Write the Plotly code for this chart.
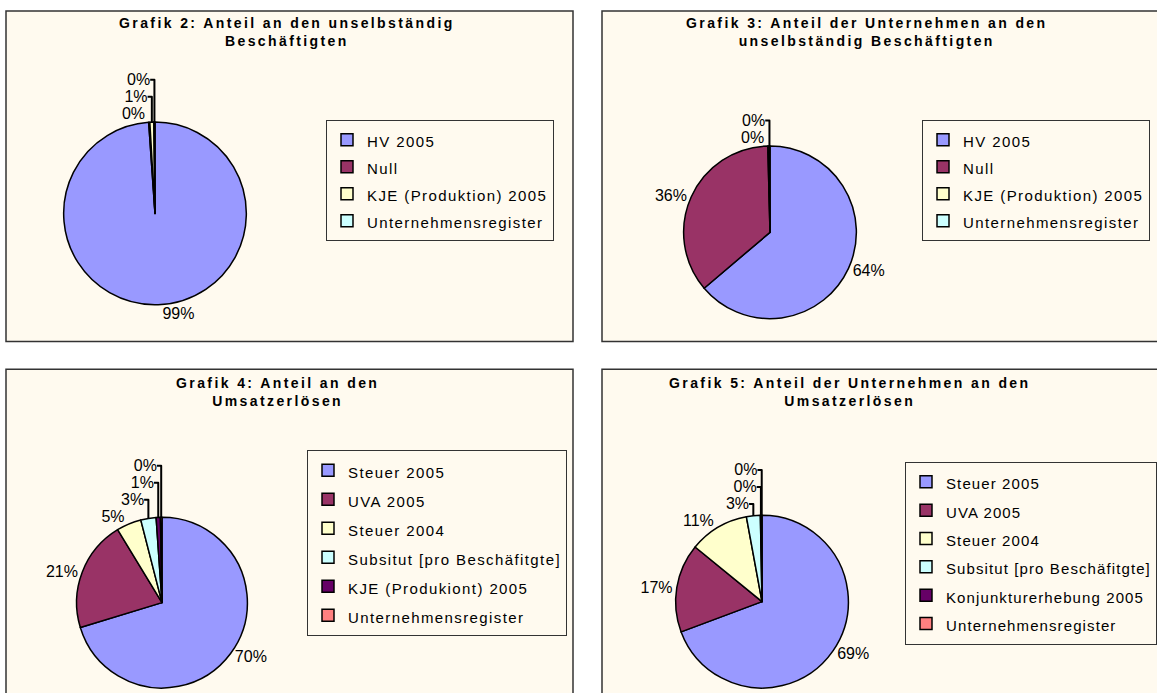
import plotly.graph_objects as go

W, H = 1157, 693

# ---------------- data ----------------
titles = [
    "Grafik 2: Anteil an den unselbständig<br>Beschäftigten",
    "Grafik 3: Anteil der Unternehmen an den<br>unselbständig Beschäftigten",
    "Grafik 4: Anteil an den<br>Umsatzerlösen",
    "Grafik 5: Anteil der Unternehmen an den<br>Umsatzerlösen",
]

labels_g2 = ["HV 2005", "Null", "KJE (Produktion) 2005", "Unternehmensregister"]
values_g2 = [98.9, 0.2, 0.7, 0.2]

labels_g3 = ["HV 2005", "Null", "KJE (Produktion) 2005", "Unternehmensregister"]
values_g3 = [63.8, 35.8, 0.2, 0.2]

labels_g4 = ["Steuer 2005", "UVA 2005", "Steuer 2004", "Subsitut [pro Beschäfitgte]",
             "KJE (Produkiont) 2005", "Unternehmensregister"]
values_g4 = [70.3, 21.0, 4.7, 2.9, 0.8, 0.3]

labels_g5 = ["Steuer 2005", "UVA 2005", "Steuer 2004", "Subsitut [pro Beschäfitgte]",
             "Konjunkturerhebung 2005", "Unternehmensregister"]
values_g5 = [69.3, 16.6, 11.2, 2.6, 0.2, 0.1]

colors4 = ["#9999FF", "#993366", "#FFFFCC", "#CCFFFF"]
colors6 = ["#9999FF", "#993366", "#FFFFCC", "#CCFFFF", "#660066", "#FF8080"]

# ---------------- layout helpers ----------------
FONT = "Liberation Sans, Arial, sans-serif"
CREAM = "#FFFAEF"


def px(x):
    return x / W


def py(y):
    return 1 - y / H


def styled(s, k, ls, size=15):
    # k makes the legend entry unique per chart (pie legends are shared by label)
    return f'<span style="font-size:{size}px;letter-spacing:{ls + k * 0.001:.3f}px">{s}</span>'


panels = [  # (x0, y0, x1, y1) in pixels from top-left
    (6, 11, 573, 344),
    (602, 11, 1175, 344),
    (6, 372, 573, 720),
    (602, 372, 1175, 720),
]

pies = [  # (labels, values, colors, cx, cy, r, legend, letter-spacing)
    (labels_g2, values_g2, colors4, 155, 215, 92, "legend", 1.4),
    (labels_g3, values_g3, colors4, 770, 234, 87, "legend2", 1.4),
    (labels_g4, values_g4, colors6, 162, 607, 86, "legend3", 1.4),
    (labels_g5, values_g5, colors6, 762, 606, 87, "legend4", 1.1),
]

fig = go.Figure()

for k, (labels, values, colors, cx, cy, r, leg, ls) in enumerate(pies):
    fig.add_trace(go.Pie(
        labels=[styled(l, k, ls) for l in labels],
        values=values,
        sort=False,
        direction="clockwise",
        rotation=0,
        marker=dict(colors=colors, line=dict(color="#000000", width=1.5)),
        texttemplate="%{percent:.0%}",
        textposition="outside",
        outsidetextfont=dict(family=FONT, size=16, color="#000000"),
        hoverinfo="label+percent",
        domain=dict(x=[px(cx - r), px(cx + r)], y=[max(0, py(cy + r)), py(cy - r)]),
        legend=leg,
        showlegend=True,
    ))

shapes = []
for x0, y0, x1, y1 in panels:
    shapes.append(dict(type="rect", xref="paper", yref="paper",
                       x0=px(x0), x1=px(x1), y0=py(y1), y1=py(y0),
                       fillcolor=CREAM, line=dict(color="#333333", width=1.5),
                       layer="below"))

title_pos = [(287, 13), (866, 13), (277, 376), (850, 376)]
annotations = []
for t, (tx, ty) in zip(titles, title_pos):
    lines = t.split("<br>")
    txt = "<br>".join(f'<span style="letter-spacing:2.4px">{ln}</span>' for ln in lines)
    annotations.append(dict(text=f"<b>{txt}</b>", x=px(tx), y=py(ty),
                            xref="paper", yref="paper", xanchor="center", yanchor="top",
                            showarrow=False, align="center",
                            font=dict(family=FONT, size=14, color="#000000")))

legend_common = dict(bgcolor=CREAM, bordercolor="#333333", borderwidth=1,
                     xanchor="left", yanchor="top", itemwidth=30,
                     itemclick=False, itemdoubleclick=False, traceorder="normal")

fig.update_layout(
    width=W, height=H,
    margin=dict(l=0, r=0, t=0, b=0),
    paper_bgcolor="#FFFFFF",
    plot_bgcolor="#FFFFFF",
    font=dict(family=FONT, color="#000000"),
    shapes=shapes,
    annotations=annotations,
    legend=dict(x=px(326), y=py(121), font=dict(family=FONT, size=18.5, color="#000"), **legend_common),
    legend2=dict(x=px(922), y=py(121), font=dict(family=FONT, size=18.5, color="#000"), **legend_common),
    legend3=dict(x=px(307), y=py(453), font=dict(family=FONT, size=20, color="#000"), **legend_common),
    legend4=dict(x=px(905), y=py(465), font=dict(family=FONT, size=19.5, color="#000"), **legend_common),
)

fig.write_html(
    "out.html",
    config={"displayModeBar": False},
    post_script=("document.body.style.margin='0';"
                 "document.body.style.overflow='hidden';"
                 "document.documentElement.style.overflow='hidden';"),
)
